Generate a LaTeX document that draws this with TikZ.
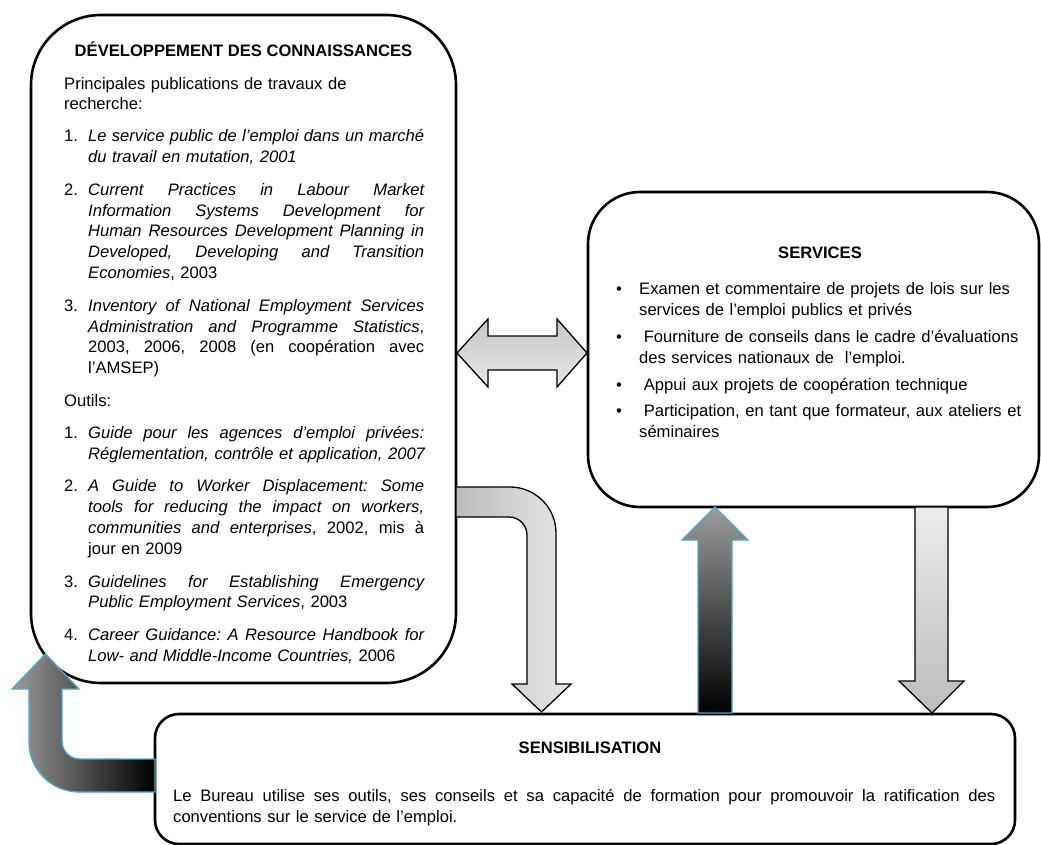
\documentclass[tikz,border=0pt]{standalone}
\usepackage{fontspec}
\setmainfont{Liberation Sans}
\definecolor{tealline}{HTML}{4BACC6}
\definecolor{dgray}{HTML}{9C9C9C}
\definecolor{dblA}{HTML}{C6C6C6}
\definecolor{dblB}{HTML}{E8E8E8}
\definecolor{bentA}{HTML}{BCBCBC}
\definecolor{bentB}{HTML}{E8E8E8}
\definecolor{downA}{HTML}{ECECEC}
\definecolor{downB}{HTML}{BCBCBC}
\newcommand\bodyfont{\fontsize{16.6}{20.8}\selectfont\frenchspacing}
\newcommand\jl[1]{\hbox to\hsize{\spaceskip=0.278em plus 2em minus 0.09em\relax\strut#1}}
\newcommand\lastl[1]{\hbox to\hsize{\strut#1\hfil}}
\newcommand\numitem[2]{\hbox{\hbox to24pt{#1\hfil}\vtop{\hsize=336pt #2}}}
\newcommand\bulitem[1]{\hbox{\hbox to23pt{\textbullet\hfil}\vtop{\hsize=390pt #1}}}
\tikzset{
  panel/.style={draw, line width=2.6pt, fill=white, inner sep=0pt},
  txt/.style={anchor=north west, inner sep=0pt, font=\bodyfont},
  ttl/.style={anchor=base, inner sep=0pt, font=\bodyfont\bfseries},
  darkarrow/.style={draw=tealline, line width=1.3pt, line join=miter},
  lightarrow/.style={draw=black, line width=1.3pt, line join=miter}
}
\begin{document}
\begin{tikzpicture}[x=1pt,y=-1pt]
\useasboundingbox (0,0) rectangle (1041,845);
% boxes
\node[panel, minimum width=425pt, minimum height=668pt, rounded corners=70pt] (dev) at (243.5,349) {};
\node[panel, minimum width=451pt, minimum height=315pt, rounded corners=52pt] (serv) at (813.5,349.5) {};
\node[panel, minimum width=860pt, minimum height=130pt, rounded corners=24pt] (sens) at (585,779) {};
% arrows
\path[lightarrow, top color=dblA, bottom color=dblB]
  (457,353) -- (488,319) -- (488,336) -- (557,336) -- (557,319) -- (587,353)
  -- (557,387) -- (557,370) -- (488,370) -- (488,387) -- cycle;
\path[lightarrow, left color=bentA, right color=bentB]
  (456,487) -- (510,487) .. controls (535.4,487) and (556,507.6) .. (556,533)
  -- (556,684) -- (571,684) -- (541.5,712) -- (512,684) -- (527,684)
  -- (527,535) .. controls (527,525.06) and (518.94,517) .. (509,517)
  -- (456,517) -- cycle;
\path[darkarrow, top color=dgray, bottom color=black]
  (715,507) -- (748,540) -- (732,540) -- (732,713) -- (698,713) -- (698,540) -- (682,540) -- cycle;
\path[lightarrow, top color=downA, bottom color=downB]
  (915,507) -- (948,507) -- (948,681) -- (964,681) -- (932,713) -- (899,681) -- (915,681) -- cycle;
\path[darkarrow, left color=dgray, right color=black]
  (155,759) -- (80,759) .. controls (70.06,759) and (62,750.94) .. (62,741)
  -- (62,689) -- (79,689) -- (45.5,654) -- (12,689) -- (29,689)
  -- (29,742) .. controls (29,769.6) and (51.4,792) .. (79,792) -- (155,792) -- cycle;
% texts
\node[ttl] (devtitle) at (243.5,57) {DÉVELOPPEMENT DES CONNAISSANCES};
\node[txt, text width=360pt] (devtext) at (64,74.44) {%
\lastl{Principales publications de travaux de}
\lastl{recherche:}
\vskip11pt
\numitem{1.}{\jl{\itshape Le service public de l’emploi dans un marché}\lastl{\itshape du travail en mutation, 2001}}
\vskip11pt
\numitem{2.}{\jl{\itshape Current Practices in Labour Market}\jl{\itshape Information Systems Development for}\jl{\itshape Human Resources Development Planning in}\jl{\itshape Developed, Developing and Transition}\lastl{\textit{Economies}, 2003}}
\vskip11pt
\numitem{3.}{\jl{\itshape Inventory of National Employment Services}\jl{\textit{Administration and Programme Statistics},}\jl{2003, 2006, 2008 (en coopération avec}\lastl{l’AMSEP)}}
\vskip11pt
\lastl{Outils:}
\vskip11pt
\numitem{1.}{\jl{\itshape Guide pour les agences d’emploi privées:}\lastl{\itshape Réglementation, contrôle et application, 2007}}
\vskip11pt
\numitem{2.}{\jl{\itshape A Guide to Worker Displacement: Some}\jl{\itshape tools for reducing the impact on workers,}\jl{\textit{communities and enterprises}, 2002, mis à}\lastl{jour en 2009}}
\vskip11pt
\numitem{3.}{\jl{\itshape Guidelines for Establishing Emergency}\lastl{\textit{Public Employment Services}, 2003}}
\vskip11pt
\numitem{4.}{\jl{\itshape Career Guidance: A Resource Handbook for}\lastl{\textit{Low- and Middle-Income Countries,} 2006}}
};
\node[ttl] (servtitle) at (820,258) {SERVICES};
\node[txt, text width=420pt] (servtext) at (616,279.44) {%
\bulitem{\lastl{Examen et commentaire de projets de lois sur les}\lastl{services de l’emploi publics et privés}}
\vskip5.5pt
\bulitem{\lastl{\hskip4.6pt Fourniture de conseils dans le cadre d’évaluations}\lastl{des services nationaux de \ l’emploi.}}
\vskip5.5pt
\bulitem{\lastl{\hskip4.6pt Appui aux projets de coopération technique}}
\vskip5.5pt
\bulitem{\lastl{\hskip4.6pt Participation, en tant que formateur, aux ateliers et}\lastl{séminaires}}
};
\node[ttl] (senstitle) at (590,753) {SENSIBILISATION};
\node[txt, text width=822pt] (senstext) at (173,786.44) {%
\jl{Le Bureau utilise ses outils, ses conseils et sa capacité de formation pour promouvoir la ratification des}
\lastl{conventions sur le service de l’emploi.}
};
\end{tikzpicture}
\end{document}
